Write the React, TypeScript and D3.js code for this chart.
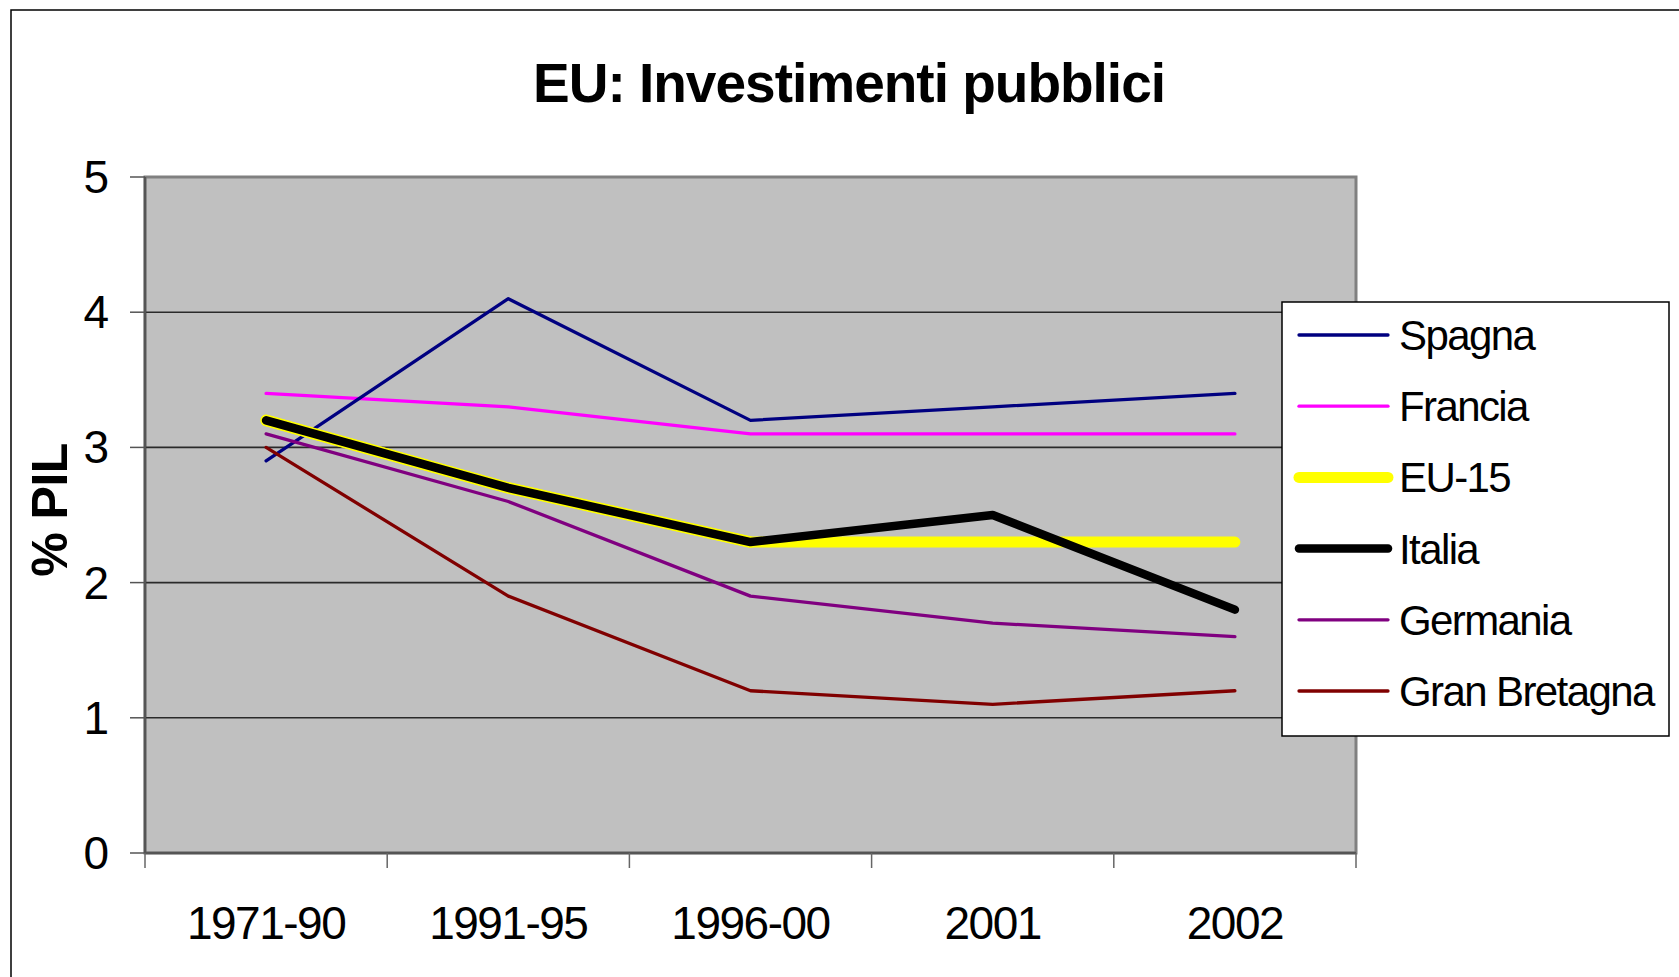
import React from "react";
import * as d3 from "d3";

const categories = ["1971-90", "1991-95", "1996-00", "2001", "2002"];
const yTicks = [0, 1, 2, 3, 4, 5];

const spagna = [2.9, 4.1, 3.2, 3.3, 3.4];
const francia = [3.4, 3.3, 3.1, 3.1, 3.1];
const eu15 = [3.2, 2.7, 2.3, 2.3, 2.3];
const italia = [3.2, 2.7, 2.3, 2.5, 1.8];
const germania = [3.1, 2.6, 1.9, 1.7, 1.6];
const granBretagna = [3.0, 1.9, 1.2, 1.1, 1.2];

interface Series {
  name: string;
  values: number[];
  color: string;
  width: number;
}

// legend order
const series: Series[] = [
  { name: "Spagna", values: spagna, color: "#000080", width: 3.3 },
  { name: "Francia", values: francia, color: "#ff00ff", width: 3.3 },
  { name: "EU-15", values: eu15, color: "#ffff00", width: 11 },
  { name: "Italia", values: italia, color: "#000000", width: 8.5 },
  { name: "Germania", values: germania, color: "#800080", width: 3.3 },
  { name: "Gran Bretagna", values: granBretagna, color: "#800000", width: 3.3 },
];

// drawing order: thin lines below, EU-15 then Italia on top
const drawOrder = ["Francia", "Spagna", "Germania", "Gran Bretagna", "EU-15", "Italia"];

const W = 1679;
const H = 977;
const plot = { left: 145, right: 1356, top: 177, bottom: 853 };
const font = "Arial, 'Liberation Sans', Helvetica, sans-serif";

export default function App() {
  const x = d3
    .scaleBand<string>()
    .domain(categories)
    .range([plot.left, plot.right])
    .padding(0);
  const y = d3.scaleLinear().domain([0, 5]).range([plot.bottom, plot.top]);
  const cx = (c: string) => (x(c) ?? 0) + x.bandwidth() / 2;

  const line = d3
    .line<number>()
    .x((_, i) => cx(categories[i]))
    .y((d) => y(d));

  const boundaries = categories.map((c) => x(c) ?? 0).concat([plot.right]);

  const legend = { x: 1282, y: 302, w: 387, h: 434, row0: 335, step: 71.2 };

  return (
    <svg
      width={W}
      height={H}
      viewBox={`0 0 ${W} ${H}`}
      style={{ position: "absolute", left: 0, top: 0, background: "#fff" }}
    >
      <rect x={11} y={10} width={W + 20} height={H + 20} fill="#fff" stroke="#000" strokeWidth={1.5} />

      <text
        x={849}
        y={102}
        textAnchor="middle"
        fontFamily={font}
        fontWeight="bold"
        fontSize={55}
        letterSpacing={-1}
      >
        EU: Investimenti pubblici
      </text>

      {/* plot background */}
      <rect
        x={plot.left}
        y={plot.top}
        width={plot.right - plot.left}
        height={plot.bottom - plot.top}
        fill="#c0c0c0"
        stroke="#808080"
        strokeWidth={3}
      />

      {/* gridlines */}
      {yTicks
        .filter((t) => t > 0 && t < 5)
        .map((t) => (
          <line
            key={t}
            x1={plot.left}
            x2={plot.right}
            y1={y(t)}
            y2={y(t)}
            stroke="#2a2a2a"
            strokeWidth={1.6}
          />
        ))}

      {/* y axis */}
      <line x1={plot.left} x2={plot.left} y1={plot.top} y2={plot.bottom} stroke="#555" strokeWidth={2.5} />
      {yTicks.map((t) => (
        <g key={t}>
          <line x1={130} x2={plot.left} y1={y(t)} y2={y(t)} stroke="#555" strokeWidth={1.5} />
          <text
            x={109}
            y={y(t) + 16}
            textAnchor="end"
            fontFamily={font}
            fontSize={46}
          >
            {t}
          </text>
        </g>
      ))}

      {/* x axis */}
      <line x1={plot.left} x2={plot.right} y1={plot.bottom} y2={plot.bottom} stroke="#555" strokeWidth={2.5} />
      {boundaries.map((b, i) => (
        <line key={i} x1={b} x2={b} y1={plot.bottom} y2={868} stroke="#666" strokeWidth={1.5} />
      ))}
      {categories.map((c) => (
        <text
          key={c}
          x={cx(c)}
          y={939}
          textAnchor="middle"
          fontFamily={font}
          fontSize={46}
          letterSpacing={-1.5}
        >
          {c}
        </text>
      ))}

      <text
        transform="translate(67,510) rotate(-90)"
        textAnchor="middle"
        fontFamily={font}
        fontWeight="bold"
        fontSize={50}
        letterSpacing={-0.5}
      >
        % PIL
      </text>

      {/* lines */}
      {drawOrder.map((name) => {
        const s = series.find((d) => d.name === name)!;
        return (
          <g key={name}>
            {name === "Italia" && (
              <path
                d={line(s.values.slice(0, 3)) ?? ""}
                fill="none"
                stroke="#ffff00"
                strokeWidth={s.width + 3}
                strokeLinecap="round"
                strokeLinejoin="round"
              />
            )}
            <path
              d={line(s.values) ?? ""}
              fill="none"
              stroke={s.color}
              strokeWidth={s.width}
              strokeLinecap="round"
              strokeLinejoin="round"
            />
          </g>
        );
      })}

      {/* legend */}
      <rect x={legend.x} y={legend.y} width={legend.w} height={legend.h} fill="#fff" stroke="#000" strokeWidth={1.5} />
      {series.map((s, i) => {
        const ly = legend.row0 + i * legend.step;
        return (
          <g key={s.name}>
            <line
              x1={1299}
              x2={1388}
              y1={ly}
              y2={ly}
              stroke={s.color}
              strokeWidth={s.width}
              strokeLinecap="round"
            />
            <text
              x={1399}
              y={ly + 15}
              fontFamily={font}
              fontSize={42}
              letterSpacing={-1.6}
            >
              {s.name}
            </text>
          </g>
        );
      })}
    </svg>
  );
}
